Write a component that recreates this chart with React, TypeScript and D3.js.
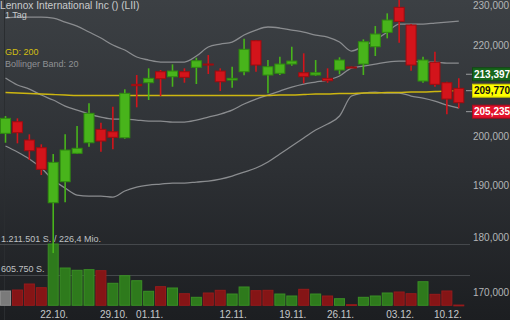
import React from "react";
import * as d3 from "d3";

const dates = [
  "16.10.", "17.10.", "18.10.", "19.10.", "22.10.", "23.10.", "24.10.", "25.10.", "26.10.",
  "29.10.", "30.10.", "31.10.", "01.11.", "02.11.", "05.11.", "06.11.", "07.11.", "08.11.", "09.11.",
  "12.11.", "13.11.", "14.11.", "15.11.", "16.11.", "19.11.", "20.11.", "21.11.", "23.11.",
  "26.11.", "27.11.", "28.11.", "29.11.", "30.11.", "03.12.", "04.12.", "06.12.", "07.12.",
  "10.12.", "11.12.",
];

const opens = [200650, 203090, 199252, 197660, 186640, 190775, 196510, 198690, 201490, 200985,
  199732, 211168, 211520, 213960, 212850, 213960, 214945, 215685, 214115, 212116,
  213960, 220990, 213225, 213604, 215685, 213736, 213225, 212490, 214339, 215010,
  215685, 219610, 222932, 228820, 224636, 211895, 216068, 211520, 210287];
const highs = [204300, 203810, 200440, 198360, 196365, 200440, 202180, 207025, 202880, 206293,
  210070, 213225, 214720, 214339, 215615, 214720, 217108, 217718, 214720, 215080,
  221427, 221150, 216586, 217334, 219610, 218105, 216586, 214720, 217200, 215120,
  221312, 224402, 227394, 230800, 224870, 217334, 218468, 211740, 212490];
const lows = [198690, 198570, 195140, 192112, 177100, 186720, 196365, 197865, 196840, 197330,
  199525, 206164, 207739, 208605, 210640, 211520, 211235, 213448, 209697, 210420,
  213160, 213960, 209195, 213225, 215303, 211390, 213003, 211520, 213380, 214790,
  213225, 217492, 221543, 220526, 214183, 211520, 210640, 204664, 205950];
const closes = [203810, 200780, 197040, 193260, 194670, 197186, 197540, 204880, 199045, 199815,
  209195, 210860, 212490, 212400, 214115, 212715, 216428, 215460, 211740, 212490,
  219015, 215460, 215080, 215685, 216360, 212850, 213736, 211960, 216586, 214900,
  220760, 222538, 225811, 225500, 215460, 216586, 211168, 207956, 207156];
const volumes = [283000, 302000, 421000, 348000, 1211501, 737000, 692000, 704000, 684000, 435000,
  585000, 486000, 277000, 368000, 342000, 229000, 158000, 243000, 296000, 223000,
  362000, 289000, 296000, 223000, 184000, 316000, 223000, 184000, 130000, 12000,
  158000, 184000, 243000, 263000, 229000, 466000, 217000, 283000, 5000];

const bbUpper = [226283, 226519, 226519, 226519, 226283, 225341, 224402, 223002, 221610, 220000,
  218856, 217266, 216586, 216134, 216134, 216134, 217492, 219542, 220230, 220690,
  222306, 223468, 224170, 223935, 223468, 223002, 222306, 221845, 220690, 218628,
  219770, 221150, 223002, 224870, 224870, 224870, 225106, 225341, 225576];
const bbMiddle = [212560, 211013, 210135, 208824, 207739, 206443, 205584, 204729, 204089, 203664,
  203664, 203451, 203240, 203240, 203028, 203028, 203451, 204089, 204729, 205584,
  206874, 207956, 208824, 209697, 210573, 211234, 211675, 212116, 213003, 214787,
  215235, 215685, 216134, 216360, 216360, 216134, 216134, 215910, 215910];
const bbLower = [198010, 196776, 195344, 193520, 191113, 189528, 188147, 187950, 187950, 187755,
  188935, 189724, 190119, 190318, 190516, 190516, 190713, 190913, 191312, 191912,
  192714, 193520, 194732, 196365, 198010, 199668, 201341, 202604, 204301, 208607,
  209260, 209478, 209260, 209260, 208607, 208173, 207523, 206658, 206015];
const gd200 = [209370, 209260, 209150, 209040, 208930, 208824, 208715, 208715, 208715, 208715,
  208715, 208715, 208715, 208715, 208715, 208715, 208715, 208715, 208715, 208715,
  208715, 208715, 208715, 208824, 208824, 208930, 209040, 209040, 209150, 209150,
  209260, 209260, 209370, 209370, 209478, 209478, 209587, 209680, 209770];

const priceTicks = [170000, 180000, 190000, 200000, 220000, 230000];
const dateTicks = ["22.10.", "29.10.", "01.11.", "12.11.", "19.11.", "26.11.", "03.12.", "10.12."];
const volumeTickValues = [1211501, 605750];
const volumeTickLabels = ["1.211.501 S. / 226,4 Mio.", "605.750 S."];
const markerValues = [213397, 209770, 205235];
const titleText = "Lennox International Inc () (LII)";
const periodText = "1 Tag";
const gdText = "GD: 200";
const bbText = "Bollinger Band: 20";

const markerStyles = [
  { fill: "#17661a", stroke: "#0f4a12", text: "#ffffff" },
  { fill: "#ffff00", stroke: "#c8c800", text: "#111111" },
  { fill: "#e3122b", stroke: "#a60c1e", text: "#ffffff" },
];

const FONT = "'Liberation Sans', Arial, sans-serif";

export default function App() {
  const W = 510, H = 320;
  const x = d3.scalePoint<string>().domain(dates).range([5.5, 458.8]);
  const y = d3.scaleLog().domain([170000, 230000]).range([292.3, 2.4]);
  const vMax = d3.max(volumes) as number;
  const yv = d3.scaleLinear().domain([0, vMax]).range([305.3, 244]);
  const fmt = d3.format(",");

  const line = d3.line<number>()
    .x((_, i) => x(dates[i]) as number)
    .y((v) => y(v))
    .curve(d3.curveMonotoneX);

  const upFill = "#48b41b", upStroke = "#2f8a10";
  const dnFill = "#d3141b", dnStroke = "#9e0c10";

  return (
    <svg width={W} height={H} style={{ position: "fixed", left: 0, top: 0, display: "block" }}>
      <defs>
        <linearGradient id="bg" x1="0" y1="0" x2="0" y2="1">
          <stop offset="0%" stopColor="#3c4044" />
          <stop offset="55%" stopColor="#2c2f33" />
          <stop offset="100%" stopColor="#1c1e21" />
        </linearGradient>
        <clipPath id="plot">
          <rect x={0} y={0} width={466} height={H} />
        </clipPath>
      </defs>
      <rect x={0} y={0} width={W} height={H} fill="url(#bg)" />
      <line x1={4.5} x2={4.5} y1={0} y2={H} stroke="#2a2d30" strokeWidth={1} />

      {/* volume grid */}
      {volumeTickValues.map((v, i) => (
        <g key={"vg" + i}>
          <line x1={0} x2={470} y1={Math.round(yv(v)) + 0.5} y2={Math.round(yv(v)) + 0.5} stroke="#45484c" strokeWidth={1} />
          <text x={1} y={yv(v) - 2.5} fill="#bfc1c3" fontSize={9} fontFamily={FONT}>{volumeTickLabels[i]}</text>
        </g>
      ))}

      {/* volume bars */}
      {volumes.map((v, i) => {
        const cx = x(dates[i]) as number;
        let fill = "#7a7a7a", stroke = "#8c8c8c";
        if (i > 0) {
          if (closes[i] > closes[i - 1]) { fill = "#2e7a1c"; stroke = "#3a8f25"; }
          else { fill = "#851516"; stroke = "#971a1b"; }
        }
        const top = yv(v);
        return (
          <rect key={"v" + i} x={cx - 5} y={top} width={10} height={Math.max(0.8, yv(0) - top)}
            fill={fill} stroke={stroke} strokeWidth={1} />
        );
      })}

      {/* bollinger + GD */}
      <g clipPath="url(#plot)" fill="none">
        <path d={line(bbUpper) || ""} stroke="#8a8c8f" strokeWidth={1.3} />
        <path d={line(bbMiddle) || ""} stroke="#8a8c8f" strokeWidth={1.3} />
        <path d={line(bbLower) || ""} stroke="#8a8c8f" strokeWidth={1.3} />
        <path d={line(gd200) || ""} stroke="#cdb610" strokeWidth={1.4} />
      </g>

      {/* candles */}
      <g clipPath="url(#plot)">
        {dates.map((d, i) => {
          const cx = x(d) as number;
          const o = opens[i], c = closes[i];
          const up = c > o;
          const top = y(Math.max(o, c));
          const bot = y(Math.min(o, c));
          const fill = up ? upFill : dnFill;
          const stroke = up ? upStroke : dnStroke;
          return (
            <g key={"c" + i}>
              <line x1={cx} x2={cx} y1={y(highs[i])} y2={y(lows[i])} stroke={fill} strokeWidth={1.6} />
              <rect x={cx - 5} y={top} width={10} height={Math.max(1, bot - top)} fill={fill} stroke={stroke} strokeWidth={1} />
            </g>
          );
        })}
      </g>

      {/* right axis */}
      {priceTicks.map((t) => (
        <text key={"t" + t} x={473} y={Math.max(y(t), 5.5)} dy="0.35em" fill="#b3b5b7" fontSize={10} fontFamily={FONT}>{fmt(t)}</text>
      ))}

      {/* price markers */}
      {markerValues.map((v, i) => {
        const yy = y(v);
        const s = markerStyles[i];
        return (
          <g key={"m" + i}>
            <line x1={466} x2={472} y1={yy} y2={yy} stroke="#9a9c9e" strokeWidth={1} />
            <rect x={472.5} y={yy - 6.5} width={40} height={13} fill={s.fill} stroke={s.stroke} strokeWidth={1} />
            <text x={474} y={yy} dy="0.36em" fill={s.text} fontSize={10} fontWeight="bold" fontFamily={FONT}>{fmt(v)}</text>
          </g>
        );
      })}

      {/* date axis */}
      {dateTicks.map((d) => (
        <text key={"d" + d} x={(x(d) as number) + 1} y={318} textAnchor="middle" fill="#c6c8ca" fontSize={10} fontFamily={FONT}>{d}</text>
      ))}

      {/* titles */}
      <text x={0} y={8.5} fill="#c9cbcd" fontSize={10.2} fontFamily={FONT}>{titleText}</text>
      <text x={5} y={18} fill="#c9cbcd" fontSize={9} fontFamily={FONT}>{periodText}</text>
      <text x={5} y={55} fill="#d2bf12" fontSize={9} fontFamily={FONT}>{gdText}</text>
      <text x={5} y={66.5} fill="#8f9194" fontSize={9} fontFamily={FONT}>{bbText}</text>
    </svg>
  );
}
